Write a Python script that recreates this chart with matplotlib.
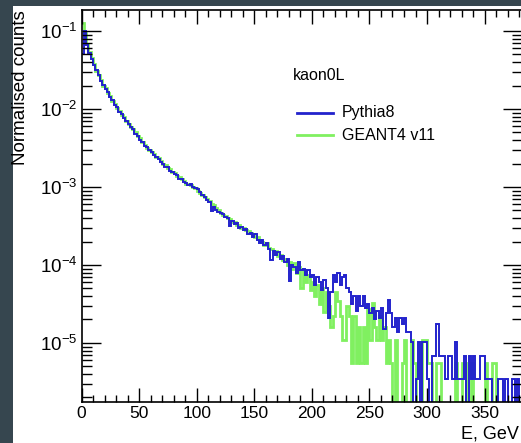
import matplotlib
matplotlib.use("Agg")
import matplotlib.pyplot as plt
import numpy as np
from matplotlib.lines import Line2D
from matplotlib.patches import Rectangle
from matplotlib.ticker import LogLocator, MultipleLocator, NullFormatter

plt.rcParams['font.family'] = ['Liberation Sans', 'DejaVu Sans']
plt.rcParams['mathtext.fontset'] = 'custom'
plt.rcParams['mathtext.rm'] = 'Liberation Sans'
plt.rcParams['mathtext.it'] = 'Liberation Sans:italic'

# ============ data (2 GeV bins) ============
BIN_WIDTH = 2
pythia8 = [
    5.0e-2, 1.0e-1, 6.6e-2, 5.2e-2, 4.4e-2, 3.7e-2, 3.2e-2, 2.7e-2, 2.3e-2, 2.05e-2,
    1.8e-2, 1.63e-2, 1.44e-2, 1.30e-2, 1.14e-2, 1.05e-2, 9.2e-3, 8.6e-3, 7.7e-3, 7.1e-3,
    6.4e-3, 5.9e-3, 5.5e-3, 4.8e-3, 4.5e-3, 4.0e-3, 3.75e-3, 3.4e-3, 3.25e-3, 2.95e-3,
    2.85e-3, 2.6e-3, 2.4e-3, 2.3e-3, 2.1e-3, 2.0e-3, 1.82e-3, 1.78e-3, 1.62e-3, 1.55e-3,
    1.45e-3, 1.42e-3, 1.28e-3, 1.25e-3, 1.15e-3, 1.13e-3, 1.06e-3, 1.08e-3, 1.0e-3, 9.6e-4,
    9.4e-4, 8.6e-4, 7.8e-4, 7.4e-4, 6.8e-4, 6.4e-4, 4.9e-4, 5.6e-4, 5.0e-4, 4.8e-4,
    4.6e-4, 4.5e-4, 4.1e-4, 4.0e-4, 3.2e-4, 3.7e-4, 3.4e-4, 3.5e-4, 3.0e-4, 3.1e-4,
    2.8e-4, 2.9e-4, 2.5e-4, 2.6e-4, 2.3e-4, 2.5e-4, 2.1e-4, 1.9e-4, 2.1e-4, 1.8e-4,
    1.9e-4, 1.6e-4, 1.15e-4, 1.5e-4, 1.35e-4, 1.45e-4, 1.2e-4, 1.3e-4, 1.1e-4, 1.2e-4,
    6.2e-5, 1.0e-4, 9.5e-5, 8.0e-5, 1.1e-4, 8.5e-5, 9.0e-5, 7.5e-5, 8.5e-5, 7.0e-5,
    7.5e-5, 5.5e-5, 7.0e-5, 6.0e-5, 4.8e-5, 6.5e-5, 5.0e-5, 2.1e-5, 4.5e-5, 7.5e-5,
    6.0e-5, 7.8e-5, 5.5e-5, 7.0e-5, 7.5e-5, 5.0e-5, 4.5e-5, 3.2e-5, 4.0e-5, 2.6e-5,
    4.0e-5, 3.0e-5, 4.0e-5, 2.8e-5, 3.2e-5, 2.4e-5, 2.8e-5, 2.0e-5, 2.6e-5, 2.1e-5,
    2.8e-5, 1.5e-5, 2.4e-5, 3.6e-5, 2.4e-5, 1.6e-5, 2.1e-5, 1.4e-5, 2.1e-5, 1.75e-5,
    2.1e-5, 1.4e-5, 1.4e-5, 1.04e-5, 0, 3.5e-6, 1.04e-5, 0, 1.04e-5, 1.04e-5,
    3.5e-6, 0, 6.9e-6, 6.9e-6, 1.75e-5, 6.9e-6, 6.9e-6, 6.9e-6, 3.5e-6, 6.9e-6,
    6.9e-6, 3.5e-6, 1.04e-5, 3.5e-6, 3.5e-6, 3.5e-6, 6.9e-6, 0, 6.9e-6, 3.5e-6,
    6.9e-6, 3.5e-6, 3.5e-6, 6.9e-6, 6.9e-6, 3.5e-6, 3.5e-6, 3.5e-6, 0, 0,
    0, 3.5e-6, 3.5e-6, 0, 3.5e-6, 0, 0, 3.5e-6, 0, 3.5e-6,
    0, 0, 0,
]
geant4 = [
    1.25e-1, 9.5e-2, 6.8e-2, 5.4e-2, 4.5e-2, 3.8e-2, 3.1e-2, 2.7e-2, 2.35e-2, 2.0e-2,
    1.85e-2, 1.6e-2, 1.45e-2, 1.28e-2, 1.16e-2, 1.02e-2, 9.4e-3, 8.4e-3, 7.8e-3, 7.0e-3,
    6.5e-3, 5.8e-3, 5.5e-3, 5.0e-3, 4.5e-3, 4.2e-3, 3.8e-3, 3.5e-3, 3.2e-3, 3.0e-3,
    2.8e-3, 2.65e-3, 2.4e-3, 2.35e-3, 2.15e-3, 2.0e-3, 1.9e-3, 1.75e-3, 1.68e-3, 1.55e-3,
    1.5e-3, 1.4e-3, 1.35e-3, 1.25e-3, 1.2e-3, 1.1e-3, 1.08e-3, 1.05e-3, 1.0e-3, 9.6e-4,
    9.0e-4, 8.4e-4, 8.0e-4, 7.4e-4, 7.0e-4, 6.6e-4, 6.0e-4, 5.8e-4, 5.4e-4, 5.0e-4,
    4.6e-4, 4.4e-4, 4.3e-4, 4.0e-4, 3.9e-4, 3.6e-4, 3.6e-4, 3.3e-4, 3.3e-4, 3.0e-4,
    3.0e-4, 2.8e-4, 2.7e-4, 2.6e-4, 2.5e-4, 2.3e-4, 2.3e-4, 2.1e-4, 2.0e-4, 1.8e-4,
    1.9e-4, 1.65e-4, 1.6e-4, 1.4e-4, 1.5e-4, 1.3e-4, 1.35e-4, 1.15e-4, 1.2e-4, 1.0e-4,
    1.1e-4, 9.0e-5, 1.05e-4, 8.0e-5, 9.5e-5, 5.0e-5, 8.5e-5, 6.0e-5, 7.5e-5, 4.8e-5,
    6.0e-5, 4.0e-5, 5.5e-5, 3.2e-5, 5.0e-5, 2.5e-5, 4.5e-5, 3.0e-5, 1.6e-5, 2.2e-5,
    4.5e-5, 3.5e-5, 2.2e-5, 1.1e-5, 1.1e-5, 3.0e-5, 2.2e-5, 5.5e-6, 2.2e-5, 5.5e-6,
    1.6e-5, 5.5e-6, 1.6e-5, 5.5e-6, 2.7e-5, 1.1e-5, 3.3e-5, 1.6e-5, 1.1e-5, 2.2e-5,
    1.1e-5, 1.6e-5, 5.5e-6, 1.1e-5, 5.5e-6, 0, 1.1e-5, 0, 0, 5.5e-6,
    1.1e-5, 0, 0, 1.1e-5, 5.5e-6, 0, 0, 0, 1.1e-5, 1.1e-5,
    5.5e-6, 5.5e-6, 0, 0, 5.5e-6, 5.5e-6, 0, 0, 0, 0,
    0, 0, 5.5e-6, 0, 0, 5.5e-6, 5.5e-6, 0, 0, 5.5e-6,
    0, 0, 0, 0, 0, 5.5e-6, 0, 0, 5.5e-6, 5.5e-6,
    0, 0, 0, 0, 0, 0, 0, 0, 0, 0,
    0, 0, 0,
]
legend_title = 'kaon0L'
labels = ['Pythia8', 'GEANT4 v11']
colors = ['#2222cc', '#80f060']

W, H = 521, 443
fig = plt.figure(figsize=(W / 100, H / 100), dpi=100, facecolor='#36464f')
fig.patches.append(Rectangle((13 / W, 0), 1, 1 - 6 / H, transform=fig.transFigure,
                             facecolor='white', edgecolor='none', zorder=-10))

ax = fig.add_axes([81.5 / W, 1 - 402 / H, 440 / W, 392 / H])
ax.set_facecolor('white')

edges = np.arange(len(pythia8) + 1) * BIN_WIDTH
g = np.array(geant4)
p = np.array(pythia8)
# empty bins drop to the bottom of the frame, as in ROOT
ax.stairs(np.where(g > 0, g, 1e-9), edges, baseline=None, color=colors[1], lw=2.0)
ax.stairs(np.where(p > 0, p, 1e-9), edges, baseline=None, color=colors[0], lw=1.4)

ax.set_yscale('log')
ax.set_xlim(0, 382)
ax.set_ylim(1.75e-6, 0.186)

ax.xaxis.set_major_locator(MultipleLocator(50))
ax.xaxis.set_minor_locator(MultipleLocator(10))
ax.yaxis.set_major_locator(LogLocator(base=10))
ax.yaxis.set_minor_locator(LogLocator(base=10, subs=np.arange(2, 10)))
ax.yaxis.set_minor_formatter(NullFormatter())
ax.tick_params(which='both', direction='in', top=True, right=True, colors='black')
ax.tick_params(axis='x', which='major', length=10, width=1, pad=3, labelsize=12.5)
ax.tick_params(axis='x', which='minor', length=5, width=1)
ax.tick_params(axis='y', which='major', length=14, width=1, pad=3, labelsize=13.5)
ax.tick_params(axis='y', which='minor', length=7, width=1)
for s in ax.spines.values():
    s.set_linewidth(1.2)

fig.text(519 / W, 1 - 434 / H, 'E, GeV', ha='right', va='center', fontsize=13)
fig.text(21 / W, 1 - 10 / H, 'Normalised counts', rotation=90, ha='center', va='top',
         fontsize=13.5)

# legend drawn by hand
fig.text(293 / W, 1 - 76 / H, legend_title, ha='left', va='center', fontsize=11.5)
for i, (lab, c) in enumerate(zip(labels, colors)):
    y = 1 - (113 + 22 * i) / H
    fig.add_artist(Line2D([297 / W, 333 / W], [y, y], color=c, lw=2))
    fig.text(342 / W, y, lab, ha='left', va='center', fontsize=11.5)

fig.savefig('out.png', dpi=100, facecolor=fig.get_facecolor())
